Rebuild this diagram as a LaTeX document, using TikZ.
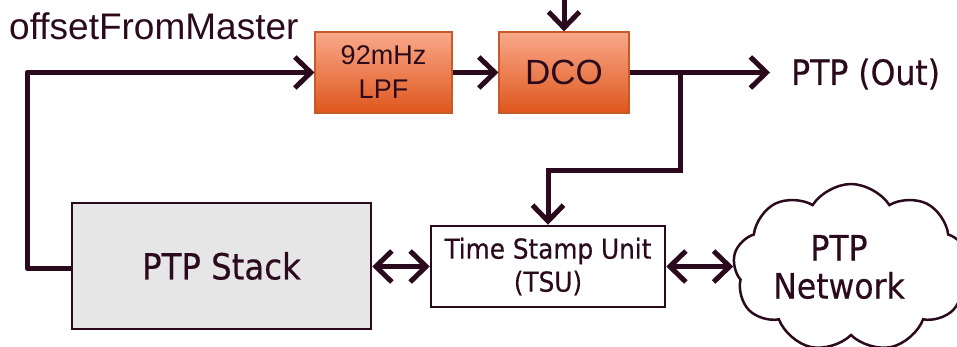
\documentclass[tikz,border=0pt]{standalone}
\usepackage{fontspec}
\setmainfont{Liberation Sans}
\newfontfamily\tah[FakeBold=0.4]{DejaVu Sans Condensed}
\usetikzlibrary{arrows.meta,shapes.symbols}
\definecolor{ln}{HTML}{2A0A1C}
\definecolor{orTop}{HTML}{F9A98A}
\definecolor{orBot}{HTML}{DF561C}
\definecolor{orBd}{HTML}{C85A28}
\definecolor{stk}{HTML}{E6E6E6}
\tikzset{
  barb/.tip={Straight Barb[length=16pt,width=31pt,line width=5pt]},
  conn/.style={draw=ln, line width=5pt},
  tip/.style={-barb},
  dtip/.style={barb-barb},
  orbox/.style={rectangle, top color=orTop, bottom color=orBot, draw=orBd, line width=1.2pt, inner sep=0pt, align=center, text=ln},
  wbox/.style={rectangle, draw=ln, line width=2.5pt, inner sep=0pt, align=center, text=ln},
}
\begin{document}
\begin{tikzpicture}[x=1pt,y=-1pt]
\useasboundingbox (0,0) rectangle (957,346);
\node[anchor=west, text=ln, font=\fontsize{37}{40}\selectfont, inner sep=0pt] (ofm) at (9,26) {offsetFromMaster};
\node[orbox, minimum width=137pt, minimum height=81pt, font=\fontsize{27}{34}\selectfont] (lpf) at (383.5,72.5) {92mHz\\LPF};
\node[orbox, minimum width=130pt, minimum height=81pt, font=\fontsize{35}{40}\selectfont] (dco) at (564,72.5) {DCO};
\node[wbox, fill=stk, minimum width=299pt, minimum height=126pt, font=\tah\fontsize{36}{40}\selectfont] (stack) at (221.5,266) {PTP Stack};
\node[wbox, fill=white, minimum width=234pt, minimum height=81pt, font=\tah\fontsize{27.5}{33}\selectfont] (tsu) at (548,266.5) {Time Stamp Unit\\(TSU)};
\node[cloud, cloud puffs=9, cloud puff arc=115, draw=ln, line width=2.5pt, fill=white, minimum width=236pt, minimum height=168pt, inner sep=0pt] (net) at (851,268) {};
\node[align=center, text=ln, font=\tah\fontsize{35}{38}\selectfont, inner sep=0pt] (netlbl) at (839,267) {PTP\\Network};
\node[anchor=west, text=ln, font=\tah\fontsize{35}{38}\selectfont, inner sep=0pt] (out) at (791,74) {PTP (Out)};
\coordinate (top) at (564,0);
\coordinate (fb) at (27,268);
\coordinate (br) at (680,72.5);
\coordinate (bend) at (680,170);
\coordinate (outtip) at (770,72.5);
\draw[conn, tip] (top) -- (dco.north);
\draw[conn, tip, line join=round] (stack.west |- fb) -- (fb) |- (lpf.west);
\draw[conn, tip] (lpf.east) -- (dco.west);
\draw[conn, tip] (dco.east) -- (outtip);
\draw[conn, tip] (br) -- (bend) -| (tsu.north);
\draw[conn, dtip] (stack.east |- tsu.west) -- (tsu.west);
\draw[conn, dtip] (tsu.east) -- (net.west |- tsu.east);
\end{tikzpicture}
\end{document}
